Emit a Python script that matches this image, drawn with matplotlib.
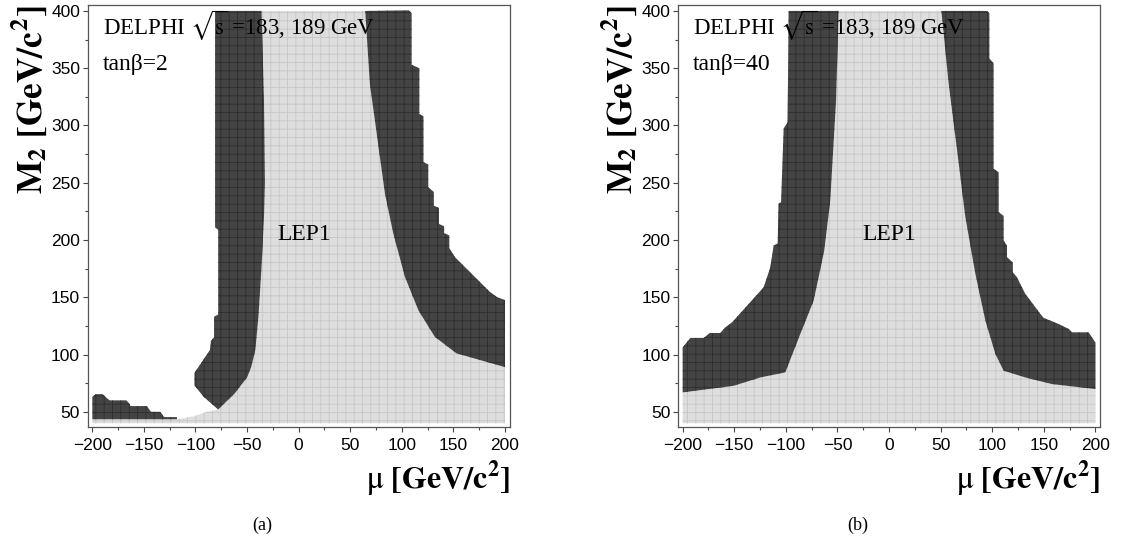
import numpy as np
import matplotlib
matplotlib.use("Agg")
import matplotlib.pyplot as plt
from matplotlib.ticker import MultipleLocator

# ---------------- data (mu [GeV/c^2], M2 [GeV/c^2]) -------------
# panel (a): tan(beta) = 2
a_inner_right_mu = [200, 153, 132, 116, 103, 91.7, 83.6, 75.6, 69, 64.5]
a_inner_right_m2 = [89, 101, 115.4, 138.7, 167.8, 205.7, 240.5, 293, 336.5, 400]
a_outer_right_mu = [107, 109.5, 109.5, 117, 117, 121, 121, 125.6, 125.6, 131, 131, 136, 136,
                    141, 141, 146, 146, 151.5, 180.5, 185, 192, 200]
a_outer_right_m2 = [400.5, 398, 353, 350, 310, 308, 268, 266, 246, 242, 230, 228, 214,
                    212, 206, 204, 193, 185, 159, 155, 150.3, 147.5]
a_inner_left_mu = [-36, -33.6, -32.7, -33.6, -36, -39, -42, -46, -50, -62, -78]
a_inner_left_m2 = [400, 322, 250, 220, 176, 133, 104, 89, 80, 66, 52]
a_outer_left_mu = [-92, -101, -101, -89, -86, -85, -82, -82, -78, -78, -81, -81]
a_outer_left_m2 = [63, 73, 84, 100, 104, 112, 115, 133, 135, 209, 211, 400]
a_lep1_low_mu = [-89, -102, -118, -200]
a_lep1_low_m2 = [50, 46, 43.5, 43.5]
a_patch_mu = [-200, -200, -197, -190, -186, -183, -167, -164, -163, -147, -144, -143,
              -134, -131, -130, -118, -118]
a_patch_m2 = [43.5, 63, 65.4, 65.4, 62, 60, 60, 57, 55, 55, 51, 50, 50, 46, 45.4, 45.4, 43.5]

# panel (b): tan(beta) = 40
b_inner_left_mu = [-48.8, -51.3, -56.9, -62.7, -73, -85.9, -100.5]
b_inner_left_m2 = [400, 322, 234.6, 191, 147, 118, 84.4]
b_low_left_mu = [-124.7, -150.6, -200]
b_low_left_m2 = [80, 72.7, 66.9]
b_outer_left_mu = [-200, -192.5, -179.6, -173.8, -163.5, -158.6, -152.1, -121.5, -115,
                   -111.8, -107.9, -107, -104.6, -102.1, -98.2, -97.3]
b_outer_left_m2 = [106.3, 114.5, 114.5, 118.8, 118.8, 123.8, 128.1, 158.7, 176.2,
                   195.2, 197, 231.7, 233, 297.3, 303, 400]
b_inner_right_mu = [111.1, 103.1, 93.4, 83.7, 74, 66, 57.8, 53, 50.7]
b_inner_right_m2 = [85.9, 100.5, 129.6, 170.5, 220, 278.3, 336.7, 380.5, 400]
b_outer_right_mu = [95, 97.3, 97.3, 101.4, 101.4, 106.3, 106.3, 111.1, 111.1, 114.4, 114.4,
                    119.8, 119.8, 124.1, 127, 132.1, 146.7, 149.9, 156.4, 164.4, 174.1,
                    177.4, 193.5, 200]
b_outer_right_m2 = [400, 398, 358.6, 354.2, 262.3, 259, 224.4, 221, 199.6, 195, 185,
                    180.6, 172, 167.5, 162, 153, 135.5, 132, 129.6, 126.7, 122.4,
                    119.4, 119.4, 110.6]
b_low_right_mu = [200, 158, 132.1, 111.1]
b_low_right_m2 = [69.9, 74.2, 80, 85.9]

floor_mu = [-200, 200]
floor_m2 = [40, 40]

x_ticks = [-200, -150, -100, -50, 0, 50, 100, 150, 200]
y_ticks = [50, 100, 150, 200, 250, 300, 350, 400]

title_text = "DELPHI $\\sqrt{\\mathrm{s}}$ =183, 189 GeV"
tanb_texts = ["tanβ=2", "tanβ=40"]
captions = ["(a)", "(b)"]
region_label = "LEP1"

# ---------------- style -------------
plt.rcParams["mathtext.fontset"] = "stix"
plt.rcParams["hatch.linewidth"] = 0.6
LIGHT = "#dedede"
LIGHT_GRID = "#c6c6c6"
DARK = "#444444"
DARK_GRID = "#2e2e2e"
SERIF = ["Liberation Serif", "DejaVu Serif"]
SANS = ["Liberation Sans", "DejaVu Sans"]

cat = np.concatenate

fig = plt.figure(figsize=(11.24, 5.45), dpi=100)
ax_a = fig.add_axes([0.0780, 0.2160, 0.3757, 0.7749])
ax_b = fig.add_axes([0.6032, 0.2160, 0.3757, 0.7749])


def fill(ax, mu, m2, face, grid):
    ax.fill(mu, m2, facecolor=face, edgecolor=grid, hatch="++", linewidth=0, zorder=2)


# panel (a)
fill(ax_a,
     cat([floor_mu, a_inner_right_mu, a_inner_left_mu, a_lep1_low_mu]),
     cat([floor_m2, a_inner_right_m2, a_inner_left_m2, a_lep1_low_m2]), LIGHT, LIGHT_GRID)
fill(ax_a, cat([a_inner_left_mu, a_outer_left_mu]), cat([a_inner_left_m2, a_outer_left_m2]),
     DARK, DARK_GRID)
fill(ax_a, cat([a_outer_right_mu, a_inner_right_mu]), cat([a_outer_right_m2, a_inner_right_m2]),
     DARK, DARK_GRID)
fill(ax_a, a_patch_mu, a_patch_m2, DARK, DARK_GRID)

# panel (b)
fill(ax_b,
     cat([floor_mu, b_low_right_mu, b_inner_right_mu, b_inner_left_mu, b_low_left_mu]),
     cat([floor_m2, b_low_right_m2, b_inner_right_m2, b_inner_left_m2, b_low_left_m2]),
     LIGHT, LIGHT_GRID)
fill(ax_b, cat([b_inner_left_mu, b_low_left_mu, b_outer_left_mu]),
     cat([b_inner_left_m2, b_low_left_m2, b_outer_left_m2]), DARK, DARK_GRID)
fill(ax_b, cat([b_inner_right_mu, b_outer_right_mu, b_low_right_mu]),
     cat([b_inner_right_m2, b_outer_right_m2, b_low_right_m2]), DARK, DARK_GRID)

for i, ax in enumerate([ax_a, ax_b]):
    ax.set_xlim(-204.5, 204.8)
    ax.set_ylim(36.5, 405.2)
    ax.set_xticks(x_ticks)
    ax.set_yticks(y_ticks)
    ax.xaxis.set_minor_locator(MultipleLocator(25))
    ax.yaxis.set_minor_locator(MultipleLocator(25))
    ax.tick_params(which="both", direction="out", color="#444444", width=0.8,
                   top=False, right=False)
    ax.tick_params(which="major", length=3.5, labelsize=12.5, pad=2)
    ax.tick_params(which="minor", length=2.5)
    ax.tick_params(axis="x", which="major", pad=4)
    for lab in ax.get_xticklabels() + ax.get_yticklabels():
        lab.set_fontfamily(SANS)
    for s in ax.spines.values():
        s.set_color("#555555")
        s.set_linewidth(0.9)
        s.set_zorder(5)

    ax.set_ylabel(r"$\mathbf{M}_{\mathbf{2}}\ \mathbf{[GeV/c^{2}]}$", fontsize=25.5, loc="top")
    ax.yaxis.set_label_coords(-0.092, 1.0)
    ax.set_xlabel(r"$\mathrm{\mu}\ \mathbf{[GeV/c^{2}]}$", fontsize=23, loc="right")
    ax.xaxis.set_label_coords(1.0, -0.075)

    ax.text(0.036, 0.929, title_text, transform=ax.transAxes, fontsize=16.5,
            fontfamily=SERIF, ha="left", va="baseline", zorder=6)
    ax.text(0.036, 0.846, tanb_texts[i], transform=ax.transAxes, fontsize=17,
            fontfamily=SERIF, ha="left", va="baseline", zorder=6)
    ax.text(5 if i == 0 else 0, 200, region_label, fontsize=17, fontfamily=SERIF,
            ha="center", va="baseline", zorder=6)

fig.text(0.2331, 0.0367, captions[0], fontsize=13, fontfamily=SERIF, ha="center", va="center")
fig.text(0.7633, 0.0367, captions[1], fontsize=13, fontfamily=SERIF, ha="center", va="center")

fig.savefig("out.png", dpi=100)
